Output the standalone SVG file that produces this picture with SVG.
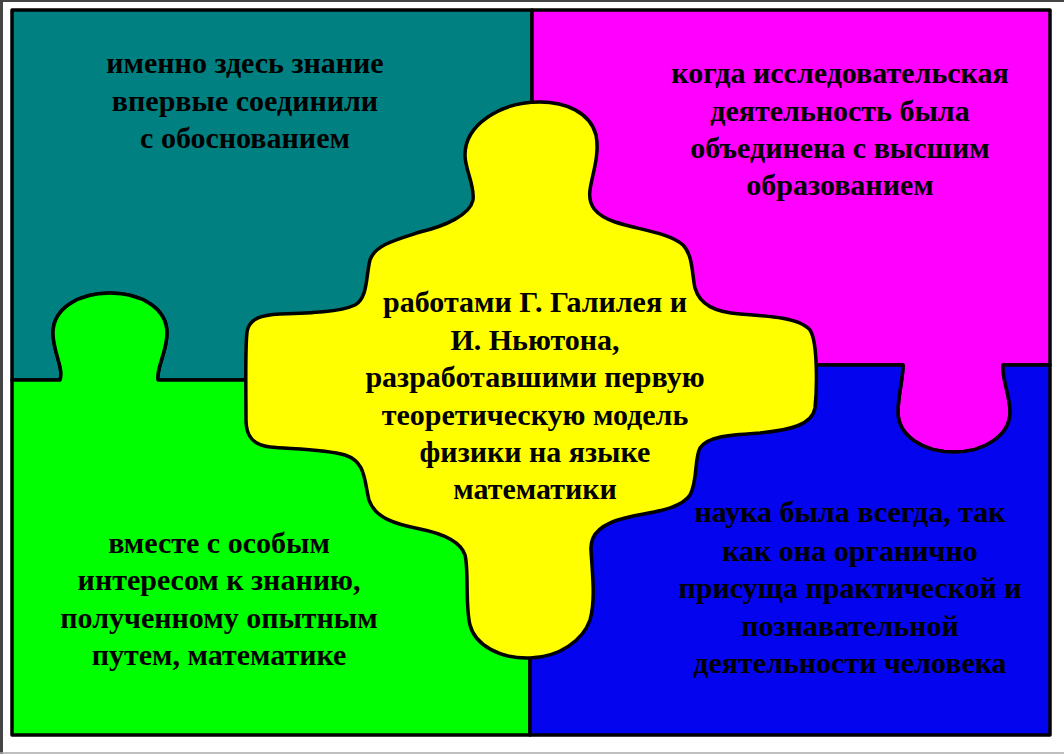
<svg xmlns="http://www.w3.org/2000/svg" width="1064" height="754" viewBox="0 0 1064 754">
<style>
.piece{stroke:#000;stroke-width:3.5;stroke-linejoin:round}
.t{font-family:"Liberation Serif","Times New Roman",serif;font-weight:bold;font-size:30px;fill:#000;text-anchor:middle}
</style>
<rect x="0" y="0" width="1064" height="754" fill="#fff"/>
<line x1="1.5" y1="0" x2="1.5" y2="754" stroke="#444" stroke-width="3"/>
<line x1="0" y1="1" x2="1064" y2="1" stroke="#444" stroke-width="2"/>
<line x1="0" y1="753" x2="1064" y2="753" stroke="#aaa" stroke-width="1.5"/>
<g id="piece-teal">
<path class="piece" fill="#008080" d="M12,10 H532 V380 H158 C156,368 167,352 167,333 C167,309 142,293 110,293 C78,293 53,309 53,333 C53,352 64,368 60,380 H12 Z"/>
<text class="t" x="245" y="73">именно здесь знание</text>
<text class="t" x="245" y="111">впервые соединили</text>
<text class="t" x="245" y="148">с обоснованием</text>
</g>
<g id="piece-magenta">
<path class="piece" fill="#FF00FF" d="M532,10 H1050 V365 H1003 C1002,380 1010,395 1010,412 C1010,435 985,452 954,452 C922,452 898,435 898,412 C898,395 903,380 903,365 H532 Z"/>
<text class="t" x="840" y="83">когда исследовательская</text>
<text class="t" x="840" y="121">деятельность была</text>
<text class="t" x="840" y="158">объединена с высшим</text>
<text class="t" x="840" y="195">образованием</text>
</g>
<g id="piece-green">
<path class="piece" fill="#00FF00" d="M12,380 H60 C64,368 53,352 53,333 C53,309 78,293 110,293 C142,293 167,309 167,333 C167,352 156,368 158,380 H530 V735 H12 Z"/>
<text class="t" x="219" y="553">вместе с особым</text>
<text class="t" x="219" y="590">интересом к знанию,</text>
<text class="t" x="219" y="628">полученному опытным</text>
<text class="t" x="219" y="665">путем, математике</text>
</g>
<g id="piece-blue">
<path class="piece" fill="#0404EE" d="M530,365 H903 C903,380 898,395 898,412 C898,435 922,452 954,452 C985,452 1010,435 1010,412 C1010,395 1002,380 1003,365 H1050 V735 H530 Z"/>
<text class="t" x="850" y="522">наука была всегда, так</text>
<text class="t" x="850" y="561">как она органично</text>
<text class="t" x="850" y="598">присуща практической и</text>
<text class="t" x="850" y="636">познавательной</text>
<text class="t" x="850" y="673">деятельности человека</text>
</g>
<g id="piece-center">
<path class="piece" fill="#FFFF00" d="M540,102 C565,102 590,112 596,135 C600,155 592,175 590,190 C588,205 595,215 615,222 C640,230 670,233 683,245 C693,255 692,275 695,288 C700,305 715,312 740,314 C770,316 800,318 810,330 C818,342 817,390 815,408 C812,425 790,430 760,433 C730,435 708,436 700,448 C694,460 698,480 690,495 C680,510 650,512 625,518 C600,524 590,535 591,550 C592,570 596,600 590,620 C583,640 560,657 530,658 C500,659 475,645 470,625 C465,605 469,570 465,555 C460,540 440,533 420,529 C395,524 375,518 369,500 C364,480 366,462 345,455 C325,449 290,449 270,447 C252,445 246,435 246,420 C246,390 245,350 247,332 C249,318 262,315 280,314 C310,313 340,312 355,305 C368,298 366,275 370,260 C375,245 395,240 420,232 C445,226 470,215 473,200 C475,185 465,170 465,155 C465,125 500,102 540,102 Z"/>
<text class="t" x="535" y="312">работами Г. Галилея и</text>
<text class="t" x="535" y="350">И. Ньютона,</text>
<text class="t" x="535" y="387">разработавшими первую</text>
<text class="t" x="535" y="425">теоретическую модель</text>
<text class="t" x="535" y="462">физики на языке</text>
<text class="t" x="535" y="499">математики</text>
</g>
<g id="connectors"/>
</svg>
